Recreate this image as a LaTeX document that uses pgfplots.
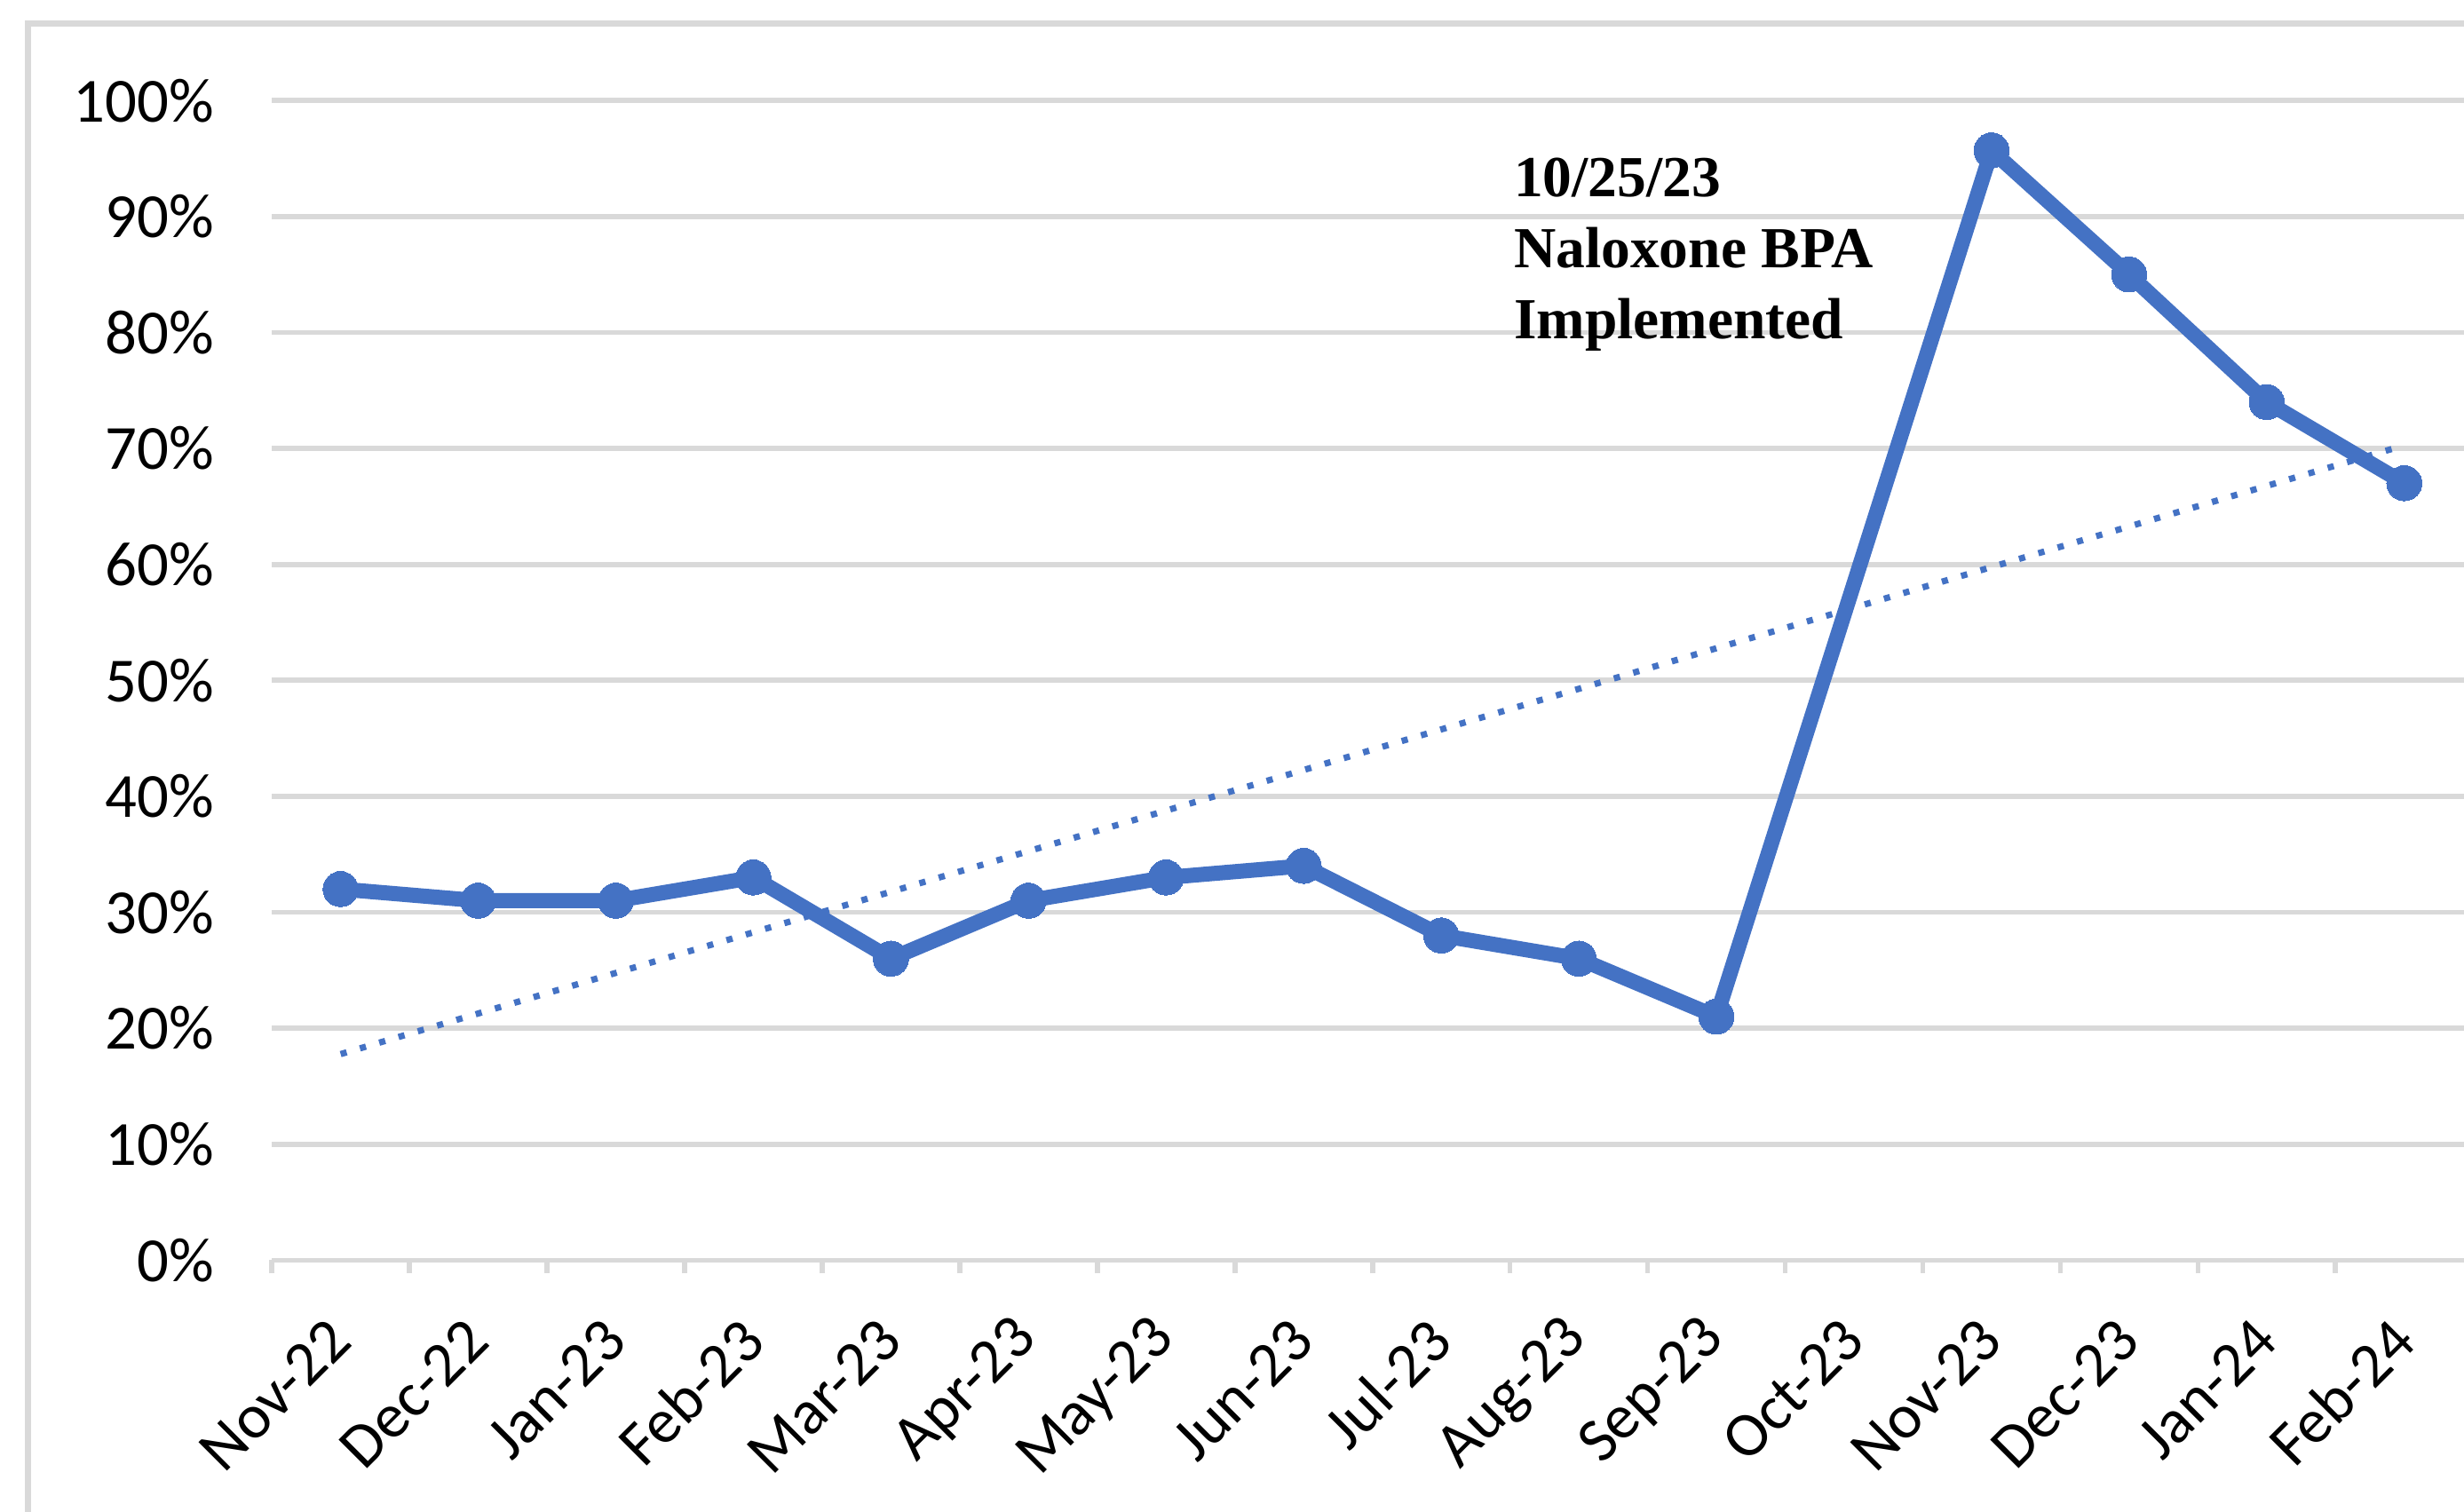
\documentclass[border=0pt]{standalone}
\usepackage{fontspec}
\usepackage{pgfplots}
\pgfplotsset{compat=1.18}
\newfontfamily\carlito{Carlito}
\newfontfamily\tnr{Liberation Serif}
\definecolor{gridgray}{HTML}{D9D9D9}
\definecolor{lineblue}{HTML}{4472C4}
\begin{document}
\begin{tikzpicture}
\begin{axis}[
  scale only axis, width=350.2pt, height=184.5pt,
  at={(0,0)}, anchor=south west,
  xmin=0, xmax=16, ymin=0, ymax=100,
  clip=false,
  axis x line*=bottom, axis y line*=left,
  y axis line style={draw=none},
  x axis line style={draw=gridgray, line width=0.8pt},
  ymajorgrids, grid style={draw=gridgray, line width=0.8pt},
  ytick={0,10,...,100},
  yticklabels={0\%,10\%,20\%,30\%,40\%,50\%,60\%,70\%,80\%,90\%,100\%},
  ytick style={draw=none},
  yticklabel style={font=\fontsize{10pt}{12pt}\selectfont\carlito, anchor=east, inner sep=0pt, xshift=-9pt},
  xtick={0.5,1.5,...,15.5},
  xticklabels={Nov-22,Dec-22,Jan-23,Feb-23,Mar-23,Apr-23,May-23,Jun-23,Jul-23,Aug-23,Sep-23,Oct-23,Nov-23,Dec-23,Jan-24,Feb-24},
  major tick length=0pt,
  minor xtick={0,1,...,16},
  minor tick length=2.1pt,
  tick align=outside,
  minor tick style={draw=gridgray, line width=0.8pt},
  xticklabel shift=11pt,
  xticklabel style={font=\fontsize{10pt}{12pt}\selectfont\carlito, rotate=45, anchor=east, inner sep=0pt},
]
\addplot[lineblue, line width=2.4pt, line join=round, mark=*, mark size=2.8pt,
  mark options={fill=lineblue, draw=lineblue, line width=0pt}]
  coordinates {(0.5,32)(1.5,31)(2.5,31)(3.5,33)(4.5,26)(5.5,31)(6.5,33)(7.5,34)
               (8.5,28)(9.5,26)(10.5,21)(12.5,95.7)(13.5,85)(14.5,74)(15.5,67)};
\addplot[lineblue, line width=1pt, dash pattern=on 1pt off 2.2pt]
  coordinates {(0.5,17.77)(15.5,70.27)};
\node[anchor=base west, inner sep=0pt, font=\fontsize{9.25pt}{11pt}\selectfont\tnr\bfseries] at (axis cs:9.02,91.7) {10/25/23};
\node[anchor=base west, inner sep=0pt, font=\fontsize{9.25pt}{11pt}\selectfont\tnr\bfseries] at (axis cs:9.02,85.6) {Naloxone BPA};
\node[anchor=base west, inner sep=0pt, font=\fontsize{9.25pt}{11pt}\selectfont\tnr\bfseries] at (axis cs:9.02,79.5) {Implemented};
\end{axis}
\draw[gridgray, line width=1pt] (-38.75pt,-80pt) -- (-38.75pt,196.75pt) -- (420pt,196.75pt);
\pgfresetboundingbox
\useasboundingbox (-43.25pt,-40pt) rectangle (348.75pt,200.5pt);
\end{tikzpicture}
\end{document}
